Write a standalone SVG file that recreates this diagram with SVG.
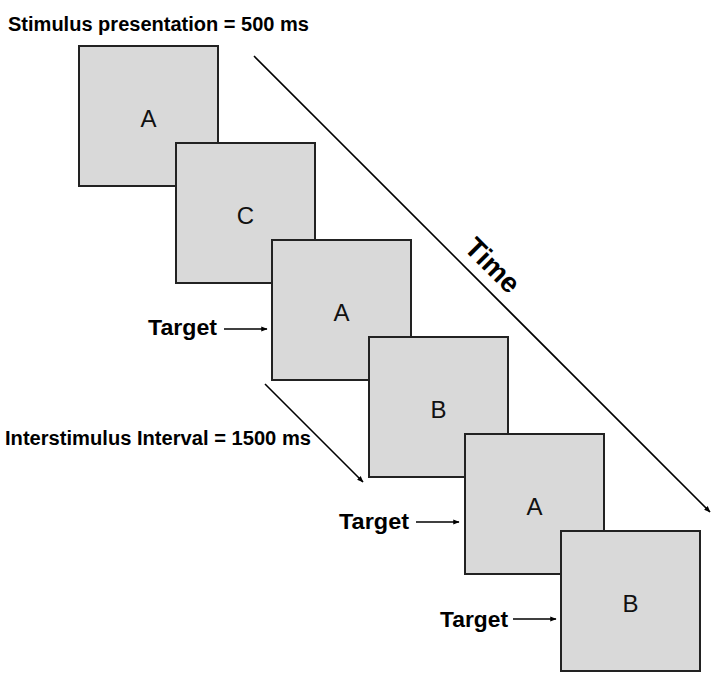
<svg xmlns="http://www.w3.org/2000/svg" width="714" height="691" viewBox="0 0 714 691">
<style>
.box{fill:#d9d9d9;stroke:#222;stroke-width:2}
.let{font-family:"Liberation Sans",Arial,sans-serif;font-size:24px;fill:#111;text-anchor:middle}
.lbl{font-family:"Liberation Sans",Arial,sans-serif;font-weight:bold;fill:#000}
.con{stroke:#000;stroke-width:1.6;fill:none}
</style>
<defs>
<marker id="ah" viewBox="0 0 10 10" refX="9" refY="5" markerWidth="4" markerHeight="4" orient="auto" markerUnits="strokeWidth">
<path d="M0,1 L10,5 L0,9 z" fill="#000"/>
</marker>
</defs>
<rect width="714" height="691" fill="#fff"/>
<text class="lbl" x="8" y="31" font-size="20" textLength="301" lengthAdjust="spacingAndGlyphs">Stimulus presentation = 500 ms</text>
<text class="lbl" x="5" y="445" font-size="19.5" textLength="306" lengthAdjust="spacingAndGlyphs">Interstimulus Interval = 1500 ms</text>
<text class="lbl" x="148" y="335" font-size="22.5" textLength="69" lengthAdjust="spacingAndGlyphs">Target</text>
<text class="lbl" x="339" y="529" font-size="22.5" textLength="70" lengthAdjust="spacingAndGlyphs">Target</text>
<text class="lbl" x="440" y="627" font-size="22.5" textLength="68" lengthAdjust="spacingAndGlyphs">Target</text>
<g transform="translate(493,265) rotate(45)">
<text class="lbl" x="0" y="10" font-size="28" text-anchor="middle">Time</text>
</g>
<g id="node1"><rect class="box" x="79" y="46" width="139" height="140"/><text class="let" x="148.5" y="127">A</text></g>
<g id="node2"><rect class="box" x="176" y="143" width="139" height="140"/><text class="let" x="245.5" y="224">C</text></g>
<g id="node3"><rect class="box" x="272" y="240" width="139" height="140"/><text class="let" x="341.5" y="321">A</text></g>
<g id="node4"><rect class="box" x="369" y="337" width="139" height="140"/><text class="let" x="438.5" y="418">B</text></g>
<g id="node5"><rect class="box" x="465" y="434" width="139" height="140"/><text class="let" x="534.5" y="515">A</text></g>
<g id="node6"><rect class="box" x="561" y="531" width="139" height="140"/><text class="let" x="630.5" y="612">B</text></g>
<g id="connectors">
<line class="con" x1="254" y1="56" x2="710" y2="512" marker-end="url(#ah)"/>
<line class="con" x1="265" y1="384" x2="363" y2="482" marker-end="url(#ah)"/>
<line class="con" x1="224" y1="329" x2="267" y2="329" marker-end="url(#ah)"/>
<line class="con" x1="416" y1="522" x2="459" y2="522" marker-end="url(#ah)"/>
<line class="con" x1="513" y1="619" x2="556" y2="619" marker-end="url(#ah)"/>
</g>
</svg>
